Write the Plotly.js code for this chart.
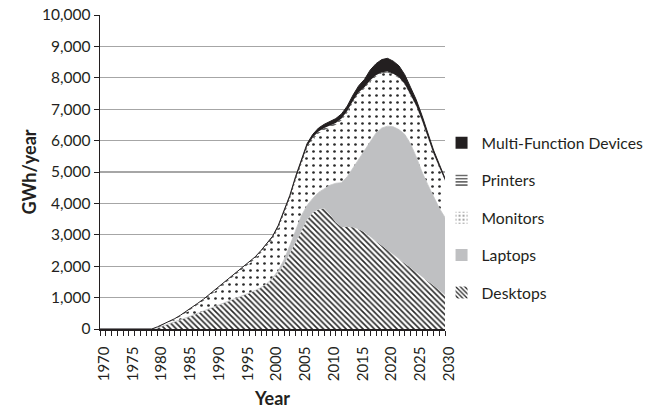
<!DOCTYPE html>
<html>
<head>
<meta charset="utf-8">
<script src="https://cdn.plot.ly/plotly-3.0.1.min.js"></script>
<style>html,body{margin:0;padding:0;background:#fff;}#chart{width:661px;height:411px;}</style>
</head>
<body>
<div id="chart"></div>
<script>
const years = [];
for (let y = 1970; y <= 2030; y++) years.push(y);

const desktops = [0,0,0,0,0,0,0,0,0,0,
  40,100,160,220,290,360,430,500,570,640,
  710,790,870,940,1010,1080,1150,1230,1320,1440,
  1600,1800,2050,2400,2750,3150,3480,3700,3810,3840,
  3650,3400,3250,3250,3240,3180,3080,2940,2800,2650,
  2500,2370,2230,2090,1950,1810,1680,1540,1400,1240,
  1080];
const laptops = [0,0,0,0,0,0,0,0,0,0,
  0,0,0,0,0,0,0,0,0,0,
  0,0,0,0,0,0,0,0,0,0,
  20,60,150,250,350,450,450,460,540,620,
  930,1240,1410,1600,1890,2240,2620,3060,3440,3750,
  3960,4070,4120,4110,3950,3670,3320,3060,2800,2610,
  2470];
const monitors = [0,0,0,0,0,0,0,0,0,0,
  20,35,50,85,120,165,220,275,330,410,
  475,545,600,680,770,855,935,1005,1105,1195,
  1235,1335,1485,1475,1615,1655,1815,1875,1880,1880,
  1835,1865,1990,2040,2095,2075,1960,1880,1805,1745,
  1710,1660,1645,1575,1540,1610,1625,1505,1380,1300,
  1170];
const printers = [0,0,0,0,0,0,0,0,0,0,
  10,15,20,25,30,35,40,45,50,50,
  55,55,60,60,60,65,65,65,65,65,
  65,65,65,65,65,65,65,65,60,60,
  55,55,50,50,45,45,40,40,35,35,
  30,30,25,25,20,20,15,15,10,10,
  10];
const mfd = [0,0,0,0,0,0,0,0,0,0,
  0,0,0,0,0,0,0,0,0,0,
  0,0,0,0,0,0,0,0,10,20,
  30,40,50,60,70,80,90,100,110,120,
  130,140,150,160,180,210,250,330,370,400,
  420,400,360,300,240,190,160,130,110,90,
  70];

const seriesNames = ['Desktops','Laptops','Monitors','Printers','Multi-Function Devices'];
const yTickVals = [0,1000,2000,3000,4000,5000,6000,7000,8000,9000,10000];
const xTickVals = [1970,1975,1980,1985,1990,1995,2000,2005,2010,2015,2020,2025,2030];

const font = 'Lato, "Open Sans", sans-serif';
const txt = '#231f20';

const styles = [
  {fill: 'white', pattern: {shape: '\\', size: 4, solidity: 0.4, fgcolor: '#2a2a2a', bgcolor: 'white', fillmode: 'replace'}, line: {width: 0, color: '#444'}},
  {fill: '#bfc0c2', pattern: null, line: {width: 0.8, color: '#bfc0c2'}},
  {fill: 'white', pattern: {shape: '.', size: 7, solidity: 0.12, fgcolor: '#2a2a2a', bgcolor: 'white', fillmode: 'replace'}, line: {width: 0, color: '#555'}},
  {fill: 'white', pattern: {shape: '-', size: 4, solidity: 0.35, fgcolor: '#2a2a2a', bgcolor: 'white', fillmode: 'replace'}, line: {width: 0, color: '#444'}},
  {fill: '#231f20', pattern: null, line: {width: 1, color: '#231f20'}}
];
const values = [desktops, laptops, monitors, printers, mfd];

const traces = [];
values.forEach((v, i) => {
  const t = {
    type: 'scatter', mode: 'lines', x: years, y: v, name: seriesNames[i],
    stackgroup: 'one', showlegend: false, hoverinfo: 'skip',
    line: styles[i].line, fillcolor: styles[i].fill
  };
  if (styles[i].pattern) t.fillpattern = styles[i].pattern;
  traces.push(t);
});
// legend entries (square swatches), top to bottom: MFD, Printers, Monitors, Laptops, Desktops
[4, 3, 2, 1, 0].forEach((i, k) => {
  const m = {color: styles[i].fill, line: {width: 0}};
  if (styles[i].pattern) {
    m.pattern = Object.assign({}, styles[i].pattern, {size: styles[i].pattern.shape === '.' ? 5 : 4});
  }
  traces.push({
    type: 'bar', x: [null], y: [null], name: seriesNames[i],
    marker: m, legendgroup: 'g' + k, showlegend: true, hoverinfo: 'skip'
  });
});

const layout = {
  width: 661, height: 411,
  margin: {l: 100, r: 210, t: 15, b: 82},
  paper_bgcolor: 'white', plot_bgcolor: 'white',
  font: {family: font, color: txt, size: 15},
  showlegend: true,
  legend: {
    x: 0.99, xanchor: 'left', y: 0.646, yanchor: 'top',
    traceorder: 'grouped', tracegroupgap: 14,
    font: {family: font, size: 15.7, color: txt},
    bgcolor: 'rgba(0,0,0,0)'
  },
  xaxis: {
    range: [1970, 2030], tickvals: xTickVals, ticktext: xTickVals.map(String),
    tickangle: -90, ticks: 'outside', ticklen: 5, tickwidth: 1, tickcolor: '#231f20',
    ticklabelshift: 4, ticklabelstandoff: 5,
    minor: {dtick: 1, tick0: 1970, ticks: 'outside', ticklen: 5, tickwidth: 1, tickcolor: '#231f20', showgrid: false},
    showline: true, linecolor: '#231f20', linewidth: 1.5,
    showgrid: false, zeroline: false, fixedrange: true,
    tickfont: {family: font, size: 15, color: txt},
    title: {text: '<b>Year</b>', font: {family: font, size: 18, color: txt}, standoff: 12}
  },
  yaxis: {
    range: [0, 10000], tickvals: yTickVals, tickformat: ',d',
    ticks: 'outside', ticklen: 5, tickwidth: 1, tickcolor: '#231f20',
    showline: true, linecolor: '#231f20', linewidth: 1.5,
    showgrid: true, gridcolor: '#a6a6a6', gridwidth: 1.3, zeroline: false, fixedrange: true,
    tickfont: {family: font, size: 15.5, color: txt},
    title: {text: '<b>GWh/year</b>', font: {family: font, size: 18, color: txt}, standoff: 0}
  }
};

Plotly.newPlot('chart', traces, layout, {staticPlot: true, displayModeBar: false});
</script>
</body>
</html>
